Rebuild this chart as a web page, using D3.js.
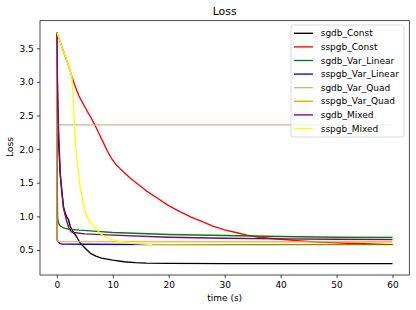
<!DOCTYPE html>
<html><head><meta charset="utf-8">
<script src="https://cdn.jsdelivr.net/npm/d3@7"></script>
<style>body{margin:0;background:#fff}svg{display:block;font-family:"DejaVu Sans",sans-serif}</style>
</head><body><svg id="c" width="416" height="310"></svg>
<script>
const seriesNames = ["sgdb_Const","sspgb_Const","sgdb_Var_Linear","sspgb_Var_Linear","sgdb_Var_Quad","sspgb_Var_Quad","sgdb_Mixed","sspgb_Mixed"];
const seriesColors = ["#000000","#ff0000","#008000","#0000ff","#d2b48c","#ffa500","#800080","#ffff00"];
const xTicks = [0,10,20,30,40,50,60];
const yTicks = [0.5,1.0,1.5,2.0,2.5,3.0,3.5];

const tBlack = [0,0.1,0.3,0.6,0.9,1.2,1.5,1.8,2.1,2.4,3.0,3.6,4.2,5.4,6,7,8,10,12,14,16,20,30,60];
const yBlack = [3.74,3.0,2.14,1.64,1.39,1.14,1.05,0.99,0.95,0.85,0.76,0.69,0.6,0.5,0.45,0.41,0.38,0.35,0.325,0.312,0.305,0.300,0.298,0.297];

const tRed = [0,1,2,2.7,3.3,3.9,4.75,5.4,6.1,6.8,7.5,8.3,9,9.8,10.5,11.3,12.2,13.1,14,16,18,20,22,24,26,28,30,32,34,36,38,40,43,46,49,52,56,60];
const yRed = [3.74,3.5,3.27,3.08,2.93,2.80,2.67,2.57,2.47,2.36,2.24,2.10,1.98,1.86,1.78,1.71,1.64,1.57,1.51,1.38,1.27,1.16,1.07,0.99,0.92,0.85,0.80,0.76,0.72,0.69,0.675,0.66,0.64,0.62,0.61,0.60,0.59,0.58];

const tGreen = [0,0.08,0.15,0.3,0.6,1.2,2,4,6,10,20,30,40,50,60];
const yGreen = [3.74,1.5,0.97,0.9,0.86,0.83,0.81,0.795,0.785,0.76,0.73,0.715,0.70,0.69,0.685];

const tBlue = [0,0.02,0.3,0.6,1,5,20,60];
const yBlue = [3.74,0.65,0.62,0.595,0.588,0.585,0.58,0.575];

const tTan = [0,60];
const yTan = [2.36,2.36];

const tOrange = [0,0.02,0.3,60];
const yOrange = [3.74,0.65,0.625,0.62];

const tPurple = [0,0.2,0.45,0.65,0.9,1.2,1.7,2.2,2.6,3,5,10,20,30,40,50,60];
const yPurple = [3.74,2.6,2.0,1.6,1.35,1.12,0.95,0.82,0.77,0.76,0.74,0.72,0.69,0.675,0.665,0.66,0.655];

const tYellow = [0,1,2,2.7,2.97,3.27,3.6,4.2,5,5.65,6.55,7.7,8.5,10,12,14,17,20,30,60];
const yYellow = [3.74,3.5,3.27,3.08,2.68,2.14,1.84,1.42,1.1,0.95,0.86,0.75,0.7,0.65,0.615,0.595,0.58,0.575,0.572,0.568];

const seriesT = [tBlack,tRed,tGreen,tBlue,tTan,tOrange,tPurple,tYellow];
const seriesY = [yBlack,yRed,yGreen,yBlue,yTan,yOrange,yPurple,yYellow];

const svg = d3.select("#c");
const L=40, R=409.3, T=20.7, B=275;
const x = d3.scaleLinear().domain([-3,63]).range([L,R]);
const y = d3.scaleLinear().domain([0.128,3.91]).range([B,T]);

const line = d3.line().x(d=>x(d[0])).y(d=>y(d[1]));
svg.append("clipPath").attr("id","clip").append("rect").attr("x",L).attr("y",T).attr("width",R-L).attr("height",B-T);
const g = svg.append("g").attr("clip-path","url(#clip)");
seriesNames.forEach((n,i)=>{
  const pts = seriesT[i].map((t,j)=>[t,seriesY[i][j]]);
  g.append("path").attr("d",line(pts)).attr("fill","none").attr("stroke",seriesColors[i]).attr("stroke-width",1.35).attr("stroke-linejoin","round");
});

const xa = svg.append("g").attr("transform",`translate(0,${B})`).call(d3.axisBottom(x).tickValues(xTicks).tickSize(3.2).tickPadding(3).tickFormat(d3.format("d")));
const ya = svg.append("g").attr("transform",`translate(${L},0)`).call(d3.axisLeft(y).tickValues(yTicks).tickSize(3.2).tickPadding(3).tickFormat(d3.format(".1f")));
[xa,ya].forEach(a=>{a.select(".domain").remove();a.selectAll("text").attr("font-size",9).attr("font-family","DejaVu Sans").attr("fill","#000");a.selectAll("line").attr("stroke","#000").attr("stroke-width",0.7);});

svg.append("rect").attr("x",L).attr("y",T).attr("width",R-L).attr("height",B-T).attr("fill","none").attr("stroke","#000").attr("stroke-width",0.7);

svg.append("text").attr("x",(L+R)/2).attr("y",11.7).attr("text-anchor","middle").attr("dominant-baseline","central").attr("font-size",10.9).text("Loss");
svg.append("text").attr("x",(L+R)/2).attr("y",298).attr("text-anchor","middle").attr("dominant-baseline","central").attr("font-size",9).text("time (s)");
svg.append("text").attr("transform","translate(10,147) rotate(-90)").attr("text-anchor","middle").attr("dominant-baseline","central").attr("font-size",9).text("Loss");

const lg = svg.append("g");
lg.append("rect").attr("x",291).attr("y",25).attr("width",113).attr("height",112).attr("rx",2).attr("fill","#fff").attr("fill-opacity",0.8).attr("stroke","#ccc").attr("stroke-width",0.7);
seriesNames.forEach((n,i)=>{
  const yy = 33.3 + i*13.6;
  lg.append("line").attr("x1",294).attr("x2",313).attr("y1",yy).attr("y2",yy).attr("stroke",seriesColors[i]).attr("stroke-width",1.35);
  lg.append("text").attr("x",320.7).attr("y",yy).attr("dominant-baseline","central").attr("font-size",9).text(n);
});
</script></body></html>
